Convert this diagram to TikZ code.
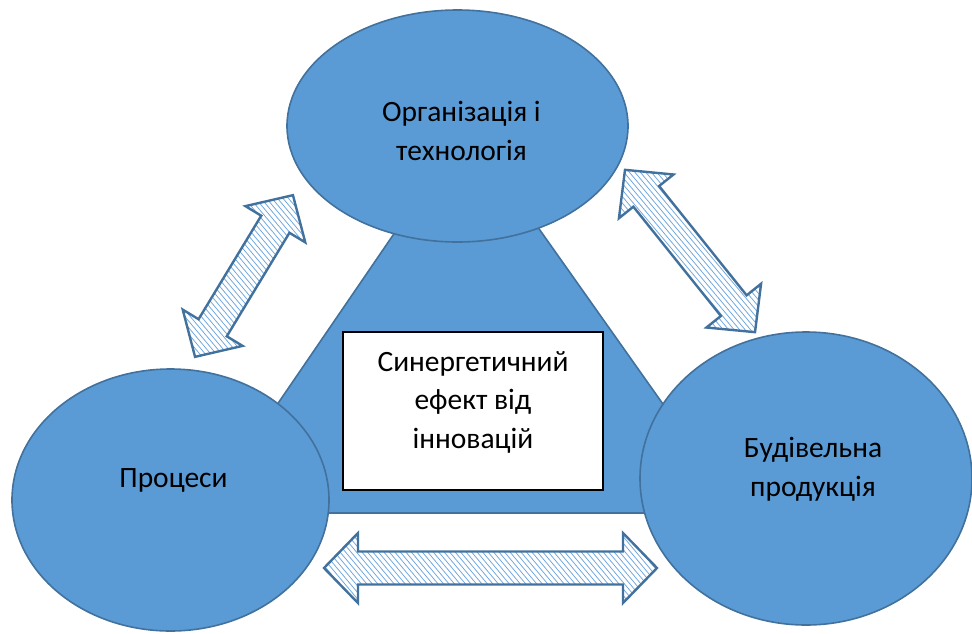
\documentclass[tikz,border=0pt]{standalone}
\usepackage{fontspec}
\setmainfont{Carlito}
\usetikzlibrary{shapes.geometric}
\definecolor{fillblue}{RGB}{91,155,213}
\definecolor{edgeblue}{RGB}{65,113,156}
\definecolor{hatchblue}{RGB}{110,165,222}

% outline of a two-headed block arrow of length #1, centred on the origin
\newcommand\blockarrowpath[1]{%
  ({-(#1)/2},0) -- ({-(#1)/2+34},-35) -- ({-(#1)/2+34},-16.5) --
  ({(#1)/2-34},-16.5) -- ({(#1)/2-34},-35) -- ({(#1)/2},0) --
  ({(#1)/2-34},35) -- ({(#1)/2-34},16.5) -- ({-(#1)/2+34},16.5) --
  ({-(#1)/2+34},35) -- cycle}

% hatched two-headed arrow: centre #1, direction #2 (degrees), length #3
\newcommand\hatcharrow[3]{%
  \begin{scope}[shift={#1}, rotate=#2]
    \fill[white] \blockarrowpath{#3};
    \begin{scope}
      \clip \blockarrowpath{#3};
      \begin{scope}[rotate={40-(#2)}]
        \foreach \k in {-60,...,60}
          \draw[hatchline] ({\k*4.2},-220) -- ({\k*4.2},220);
      \end{scope}
    \end{scope}
    \draw[arrowedge] \blockarrowpath{#3};
  \end{scope}}

\begin{document}
\begin{tikzpicture}[x=1pt, y=-1pt,
  bubble/.style={ellipse, draw=edgeblue, fill=fillblue, line width=1.6pt, inner sep=0pt},
  caption/.style={font=\fontsize{29.5}{38.5}\selectfont, align=center, text=black, inner sep=0pt},
  hatchline/.style={draw=hatchblue, line width=0.75pt},
  arrowedge/.style={draw=edgeblue, line width=2.4pt, line join=miter},
  centrebox/.style={draw=black, fill=white, line width=1.8pt, inner sep=0pt}]
\useasboundingbox (0,0) rectangle (972,633);

% central triangle, partly hidden by the three ellipses
\draw[fill=fillblue, draw=edgeblue, line width=1.6pt] (467,127) -- (740,513) -- (203,513) -- cycle;

% the three ellipses
\node[bubble, minimum width=341pt, minimum height=232pt] (org) at (457.5,126) {};
\node[bubble, minimum width=317pt, minimum height=262pt] (proc) at (170.5,500) {};
\node[bubble, minimum width=332pt, minimum height=293pt] (bud) at (806,478.5) {};

\node[caption] at ([xshift=4pt, yshift=-5pt]org.center) {Організація і\\технологія};
\node[caption] at ([xshift=3pt, yshift=20pt]proc.center) {Процеси};
\node[caption] at ([xshift=7pt, yshift=9pt]bud.center) {Будівельна\\продукція};

% central box
\node[centrebox, minimum width=260pt, minimum height=158pt] (eff) at (473,411) {};
\node[caption] at ([yshift=9pt]eff.center) {Синергетичний\\ефект від\\інновацій};

% hatched two-headed arrows between the ellipses
\coordinate (a1) at (244,276);
\coordinate (a2) at (690,251);
\coordinate (a3) at (490.5,568);
\hatcharrow{(a1)}{58.8}{189}
\hatcharrow{(a2)}{-51.3}{208}
\hatcharrow{(a3)}{0}{333}
\end{tikzpicture}
\end{document}
